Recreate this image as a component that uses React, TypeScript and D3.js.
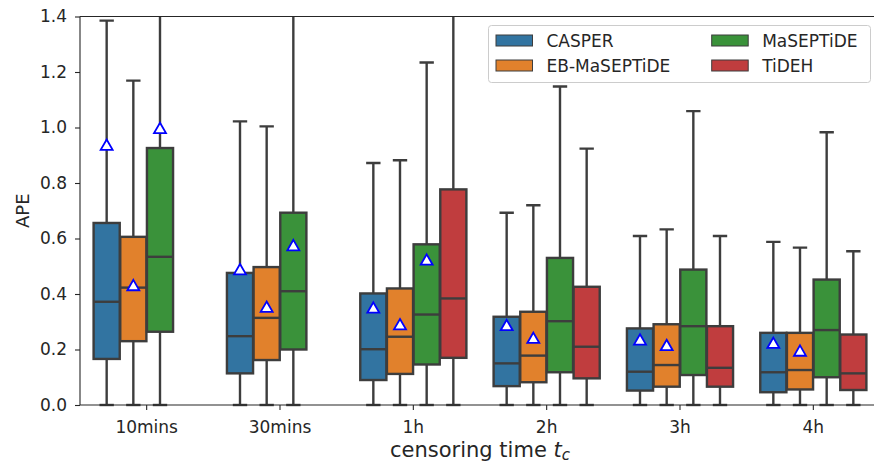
import React, { useEffect, useRef } from 'react';
import * as d3 from 'd3';

const categories = ["10mins", "30mins", "1h", "2h", "3h", "4h"];
const seriesNames = ["CASPER", "EB-MaSEPTiDE", "MaSEPTiDE", "TiDEH"];
const colors = ["#3274a1", "#e1812c", "#3a923a", "#c03d3e"];
const yTicks = [0.0, 0.2, 0.4, 0.6, 0.8, 1.0, 1.2, 1.4];

// CASPER
const casperLo = [0, 0, 0, 0, 0, 0];
const casperQ1 = [0.166, 0.114, 0.090, 0.068, 0.052, 0.046];
const casperMed = [0.372, 0.248, 0.201, 0.150, 0.120, 0.118];
const casperQ3 = [0.656, 0.476, 0.402, 0.318, 0.276, 0.260];
const casperHi = [1.385, 1.022, 0.872, 0.693, 0.609, 0.588];
const casperMean = [0.932, 0.483, 0.345, 0.282, 0.230, 0.218];

// EB-MaSEPTiDE
const ebLo = [0, 0, 0, 0, 0, 0];
const ebQ1 = [0.230, 0.162, 0.112, 0.082, 0.066, 0.056];
const ebMed = [0.423, 0.314, 0.246, 0.178, 0.144, 0.126];
const ebQ3 = [0.606, 0.497, 0.420, 0.336, 0.291, 0.260];
const ebHi = [1.169, 1.004, 0.882, 0.720, 0.633, 0.567];
const ebMean = [0.426, 0.348, 0.285, 0.236, 0.210, 0.190];

// MaSEPTiDE
const maLo = [0, 0, 0, 0, 0, 0];
const maQ1 = [0.264, 0.200, 0.146, 0.118, 0.108, 0.100];
const maMed = [0.534, 0.410, 0.326, 0.302, 0.284, 0.270];
const maQ3 = [0.926, 0.693, 0.579, 0.530, 0.488, 0.452];
const maHi = [1.75, 1.48, 1.234, 1.148, 1.059, 0.983];
const maMean = [0.992, 0.570, 0.518, null, null, null];

// TiDEH (no result for the two shortest windows)
const tidehLo = [null, null, 0, 0, 0, 0];
const tidehQ1 = [null, null, 0.170, 0.096, 0.066, 0.054];
const tidehMed = [null, null, 0.384, 0.210, 0.134, 0.114];
const tidehQ3 = [null, null, 0.777, 0.426, 0.284, 0.254];
const tidehHi = [null, null, 1.6, 0.924, 0.609, 0.554];
const tidehMean = [null, null, null, null, null, null];

const width = 874;
const height = 465;
const left = 80;
const right = 880;
const top = 16.5;
const bottom = 405;
const font = "DejaVu Sans, sans-serif";
const lineColor = "#3d3d3d";

function BoxChart() {
    const svgRef = useRef<SVGSVGElement>(null);

    useEffect(() => {
        const svg = d3.select(svgRef.current);
        svg.selectAll("*").remove();

        const series = [
            { lo: casperLo, q1: casperQ1, med: casperMed, q3: casperQ3, hi: casperHi, mean: casperMean },
            { lo: ebLo, q1: ebQ1, med: ebMed, q3: ebQ3, hi: ebHi, mean: ebMean },
            { lo: maLo, q1: maQ1, med: maMed, q3: maQ3, hi: maHi, mean: maMean },
            { lo: tidehLo, q1: tidehQ1, med: tidehMed, q3: tidehQ3, hi: tidehHi, mean: tidehMean },
        ];

        const xScale = d3.scaleBand().domain(categories).range([left, right]);
        const yScale = d3.scaleLinear().domain([0, 1.4]).range([bottom, top]);
        const groupW = xScale.bandwidth() * 0.8;
        const hue = d3.scaleBand().domain(seriesNames).range([0, groupW]);
        const boxW = hue.bandwidth() * 0.98;
        const capW = boxW * 0.55;

        svg.append("defs").append("clipPath").attr("id", "plot-clip")
            .append("rect")
            .attr("x", left).attr("y", top)
            .attr("width", right - left).attr("height", bottom - top + 3);

        const plot = svg.append("g").attr("clip-path", "url(#plot-clip)");

        series.forEach((s, si) => {
            categories.forEach((cat, ci) => {
                if (s.q1[ci] == null) return;
                const cx = (xScale(cat) as number) + (xScale.bandwidth() - groupW) / 2
                    + (hue(seriesNames[si]) as number) + hue.bandwidth() / 2;
                const g = plot.append("g");

                // whiskers
                g.append("line")
                    .attr("x1", cx).attr("x2", cx)
                    .attr("y1", yScale(s.q3[ci] as number)).attr("y2", yScale(s.hi[ci] as number))
                    .attr("stroke", lineColor).attr("stroke-width", 2.4);
                g.append("line")
                    .attr("x1", cx).attr("x2", cx)
                    .attr("y1", yScale(s.q1[ci] as number)).attr("y2", yScale(s.lo[ci] as number))
                    .attr("stroke", lineColor).attr("stroke-width", 2.4);
                // caps
                [s.hi[ci], s.lo[ci]].forEach(v => {
                    g.append("line")
                        .attr("x1", cx - capW / 2).attr("x2", cx + capW / 2)
                        .attr("y1", yScale(v as number)).attr("y2", yScale(v as number))
                        .attr("stroke", lineColor).attr("stroke-width", 2.4);
                });
                // box
                g.append("rect")
                    .attr("x", cx - boxW / 2)
                    .attr("y", yScale(s.q3[ci] as number))
                    .attr("width", boxW)
                    .attr("height", yScale(s.q1[ci] as number) - yScale(s.q3[ci] as number))
                    .attr("fill", colors[si])
                    .attr("stroke", lineColor).attr("stroke-width", 2.4);
                // median
                g.append("line")
                    .attr("x1", cx - boxW / 2).attr("x2", cx + boxW / 2)
                    .attr("y1", yScale(s.med[ci] as number)).attr("y2", yScale(s.med[ci] as number))
                    .attr("stroke", lineColor).attr("stroke-width", 2.4);
                // mean
                if (s.mean[ci] != null) {
                    g.append("path")
                        .attr("d", d3.symbol(d3.symbolTriangle, 62)())
                        .attr("transform", "translate(" + cx + "," + yScale(s.mean[ci] as number) + ")")
                        .attr("fill", "white")
                        .attr("stroke", "#0000ff")
                        .attr("stroke-width", 1.8);
                }
            });
        });

        // axes
        const yAxis = d3.axisLeft(yScale)
            .tickValues(yTicks)
            .tickFormat(d3.format(".1f"))
            .tickSize(5)
            .tickSizeOuter(0)
            .tickPadding(8);
        const yg = svg.append("g").attr("transform", "translate(" + left + ",0)").call(yAxis as any);

        const xAxis = d3.axisBottom(xScale).tickSize(5).tickSizeOuter(0).tickPadding(11);
        const xg = svg.append("g").attr("transform", "translate(0," + bottom + ")").call(xAxis as any);

        [yg, xg].forEach(ax => {
            ax.select(".domain").remove();
            ax.selectAll(".tick line").attr("stroke", "#262626").attr("stroke-width", 1.1);
            ax.selectAll(".tick text")
                .attr("fill", "#262626")
                .style("font-family", font)
                .style("font-size", "17px");
        });

        // spines
        const spine = (x1: number, y1: number, x2: number, y2: number) =>
            svg.append("line")
                .attr("x1", x1).attr("y1", y1).attr("x2", x2).attr("y2", y2)
                .attr("stroke", "#262626").attr("stroke-width", 1.1);
        spine(left, top, left, bottom);
        spine(left, bottom, right, bottom);
        spine(left, top, right, top);
        spine(right, top, right, bottom);

        // axis labels
        svg.append("text")
            .attr("transform", "translate(29," + (top + bottom) / 2 + ") rotate(-90)")
            .attr("text-anchor", "middle")
            .attr("fill", "#262626")
            .style("font-family", font)
            .style("font-size", "18px")
            .text("APE");

        const xl = svg.append("text")
            .attr("x", (left + right) / 2)
            .attr("y", 457)
            .attr("text-anchor", "middle")
            .attr("fill", "#262626")
            .style("font-family", font)
            .style("font-size", "21px");
        xl.append("tspan").text("censoring time ");
        xl.append("tspan").style("font-style", "italic").text("t");
        xl.append("tspan").style("font-style", "italic").style("font-size", "15px").attr("dy", 3).text("c");

        // legend
        const lg = svg.append("g");
        lg.append("rect")
            .attr("x", 488.5).attr("y", 25.5)
            .attr("width", 382).attr("height", 57)
            .attr("rx", 3)
            .attr("fill", "white").attr("fill-opacity", 0.8)
            .attr("stroke", "#cccccc").attr("stroke-width", 1);

        seriesNames.forEach((name, i) => {
            const col = Math.floor(i / 2);
            const row = i % 2;
            const lx = 496 + col * 215.7;
            const ly = 40.5 + row * 25;
            lg.append("rect")
                .attr("x", lx).attr("y", ly - 5.5)
                .attr("width", 36.5).attr("height", 11)
                .attr("fill", colors[i])
                .attr("stroke", lineColor).attr("stroke-width", 1);
            lg.append("text")
                .attr("x", lx + 50.5).attr("y", ly + 6)
                .attr("fill", "#262626")
                .style("font-family", font)
                .style("font-size", "17px")
                .text(name);
        });
    }, []);

    return (
        <svg ref={svgRef} width={width} height={height} style={{ display: "block" }}></svg>
    );
}

export default function App() {
    return (
        <div style={{ position: "absolute", left: 0, top: 0, background: "white" }}>
            <BoxChart />
        </div>
    );
}
